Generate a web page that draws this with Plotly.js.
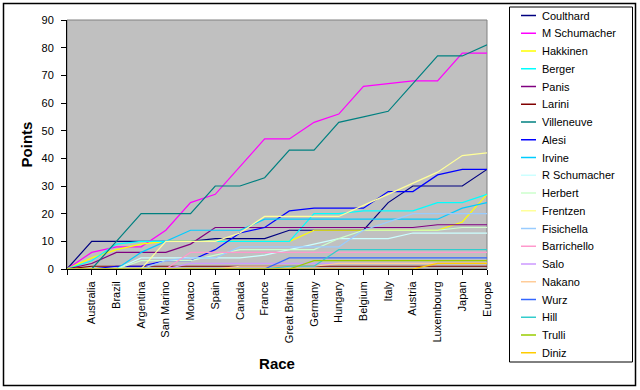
<!DOCTYPE html>
<html><head><meta charset="utf-8">
<script src="https://cdn.plot.ly/plotly-3.0.1.min.js"></script>
<style>html,body{margin:0;padding:0;background:#fff}#chart{width:640px;height:390px}</style>
</head><body><div id="chart"></div>
<script>
const races = ['Australia','Brazil','Argentina','San Marino','Monaco','Spain','Canada','France','Great Britain','Germany','Hungary','Belgium','Italy','Austria','Luxembourg','Japan','Europe'];
const drivers = ['Coulthard','M Schumacher','Hakkinen','Berger','Panis','Larini','Villeneuve','Alesi','Irvine','R Schumacher','Herbert','Frentzen','Fisichella','Barrichello','Salo','Nakano','Wurz','Hill','Trulli','Diniz'];
const colors = ['#000080','#FF00FF','#FFFF00','#00FFFF','#800080','#800000','#008080','#0000FF','#00CCFF','#CCFFFF','#CCFFCC','#FFFF99','#99CCFF','#FF99CC','#CC99FF','#FFCC99','#3366FF','#33CCCC','#99CC00','#FFCC00'];

// cumulative points; first value is the starting point before Australia
const coulthard   = [0,10,10,10,10,10,11,11,11,14,14,14,14,24,30,30,30,36];
const mSchumacher = [0,6,8,8,14,24,27,37,47,47,53,56,66,67,68,68,78,78];
const hakkinen    = [0,4,7,9,10,10,10,10,10,10,14,14,14,14,14,14,17,27];
const berger      = [0,3,9,10,10,10,10,10,10,10,20,20,21,21,21,24,24,27];
const panis       = [0,2,6,6,6,9,15,15,15,15,15,15,15,15,15,16,16,16];
const larini      = [0,1,1,1,1,1,1,1,1,1,1,1,1,1,1,1,1,1];
const villeneuve  = [0,0,10,20,20,20,30,30,33,43,43,53,55,57,67,77,77,81];
const alesi       = [0,0,1,1,3,3,7,13,15,21,22,22,22,28,28,34,36,36];
const irvine      = [0,0,0,6,10,14,14,14,18,18,18,18,18,18,18,18,22,24];
const rSchumacher = [0,0,0,4,4,4,4,4,5,7,9,11,11,11,13,13,13,13];
const herbert     = [0,0,0,3,3,3,5,7,7,7,7,11,14,14,14,14,15,15];
const frentzen    = [0,0,0,0,10,10,10,13,19,19,19,19,23,27,31,35,41,42];
const fisichella  = [0,0,0,0,3,4,4,8,8,8,8,8,14,17,20,20,20,20];
const barrichello = [0,0,0,0,0,6,6,6,6,6,6,6,6,6,6,6,6,6];
const salo        = [0,0,0,0,0,2,2,2,2,2,2,2,2,2,2,2,2,2];
const nakano      = [0,0,0,0,0,0,0,1,1,1,1,2,2,2,2,2,2,2];
const wurz        = [0,0,0,0,0,0,0,0,0,4,4,4,4,4,4,4,4,4];
const hill        = [0,0,0,0,0,0,0,0,0,1,1,7,7,7,7,7,7,7];
const trulli      = [0,0,0,0,0,0,0,0,0,0,3,3,3,3,3,3,3,3];
const diniz       = [0,0,0,0,0,0,0,0,0,0,0,0,0,0,0,2,2,2];

const series = [coulthard,mSchumacher,hakkinen,berger,panis,larini,villeneuve,alesi,irvine,rSchumacher,herbert,frentzen,fisichella,barrichello,salo,nakano,wurz,hill,trulli,diniz];

const L=67, R=487, T=20, B=269;
const px = x => (x-L)/(R-L);
const py = y => (B-y)/(B-T);
const xIdx = [0].concat(races.map((_, i) => i+1));

const traces = drivers.map((name, i) => ({
  type:'scatter', mode:'lines', name:name, x:xIdx, y:series[i],
  line:{color:colors[i], width:1.2}, showlegend:false
}));

const FONT = 'Liberation Sans, Arial, sans-serif';
const shapes = [
  {type:'rect', xref:'paper', yref:'paper', x0:px(3.5), x1:px(635.5), y0:py(385.5), y1:py(3.5), line:{color:'#000', width:1.5}, fillcolor:'rgba(0,0,0,0)'},
  {type:'rect', xref:'paper', yref:'paper', x0:0, x1:1, y0:0, y1:1, line:{color:'#808080', width:1}, layer:'below'},
  {type:'rect', xref:'paper', yref:'paper', x0:px(509.5), x1:px(632.5), y0:py(362), y1:py(7), line:{color:'#000', width:1}, fillcolor:'rgba(0,0,0,0)'}
];
const annotations = [];
drivers.forEach((name, i) => {
  const yc = 15.5 + i*17.75;
  shapes.push({type:'line', xref:'paper', yref:'paper', x0:px(521), x1:px(536), y0:py(yc), y1:py(yc), line:{color:colors[i], width:1.5}});
  annotations.push({xref:'paper', yref:'paper', x:px(540), y:py(yc), xanchor:'left', yanchor:'middle', text:name, showarrow:false, font:{family:FONT, size:11, color:'#000'}});
});

const layout = {
  width:640, height:390,
  margin:{l:L, r:640-R, t:T, b:390-B, pad:0},
  paper_bgcolor:'#FFFFFF', plot_bgcolor:'#C0C0C0',
  font:{family:FONT, size:11, color:'#000'},
  showlegend:false,
  xaxis:{range:[0,17], tickmode:'array', tickvals:xIdx, ticktext:[''].concat(races), tickangle:-90,
    ticks:'outside', ticklen:5, tickcolor:'#000', showline:true, linecolor:'#000', linewidth:1,
    showgrid:false, zeroline:false, automargin:false, ticklabelstandoff:2, tickfont:{family:FONT, size:11, color:'#000'},
    title:{text:'Race', font:{family:FONT, size:15, weight:'bold', color:'#000'}, standoff:16}},
  yaxis:{range:[0,90], dtick:10, ticks:'outside', ticklen:5, tickcolor:'#000', showline:true, linecolor:'#000', linewidth:1,
    showgrid:false, zeroline:false, automargin:false, ticklabelstandoff:5, tickfont:{family:FONT, size:11, color:'#000'},
    title:{text:'Points', font:{family:FONT, size:15, weight:'bold', color:'#000'}, standoff:5}},
  shapes:shapes, annotations:annotations
};

Plotly.newPlot('chart', traces, layout, {displayModeBar:false, staticPlot:true});
</script></body></html>
